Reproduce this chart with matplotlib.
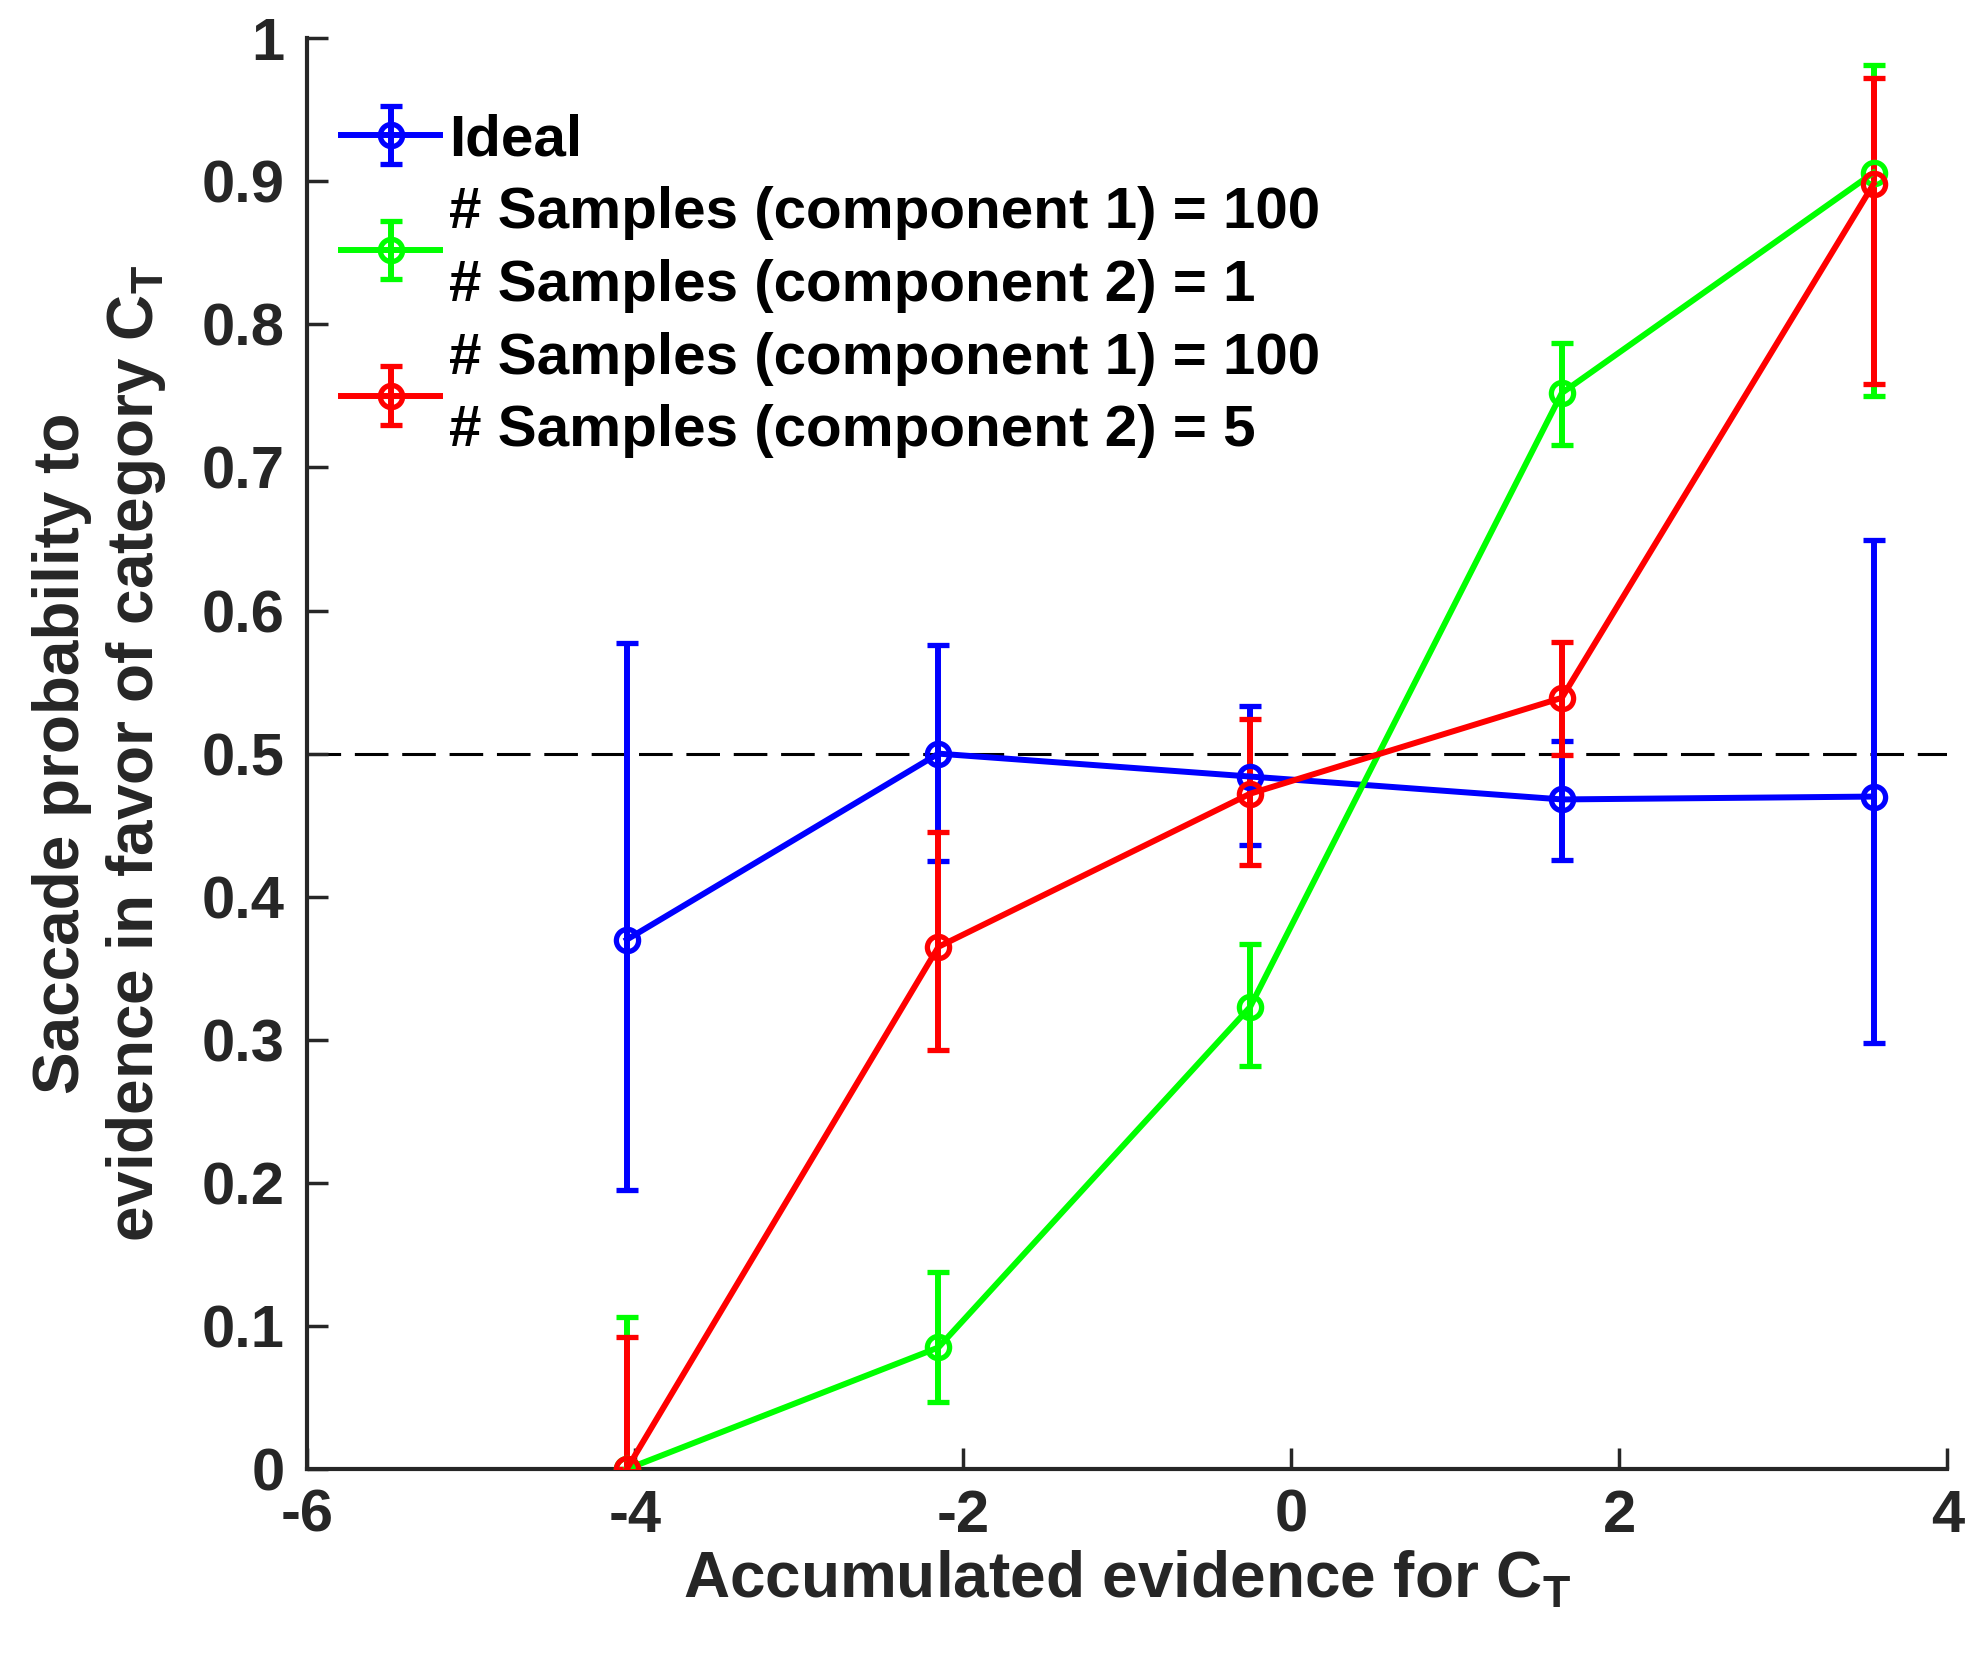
import numpy as np
import matplotlib
matplotlib.use("Agg")
import matplotlib.pyplot as plt

# ── Data ────────────────────────────────────────────────────────────────
x_vals = [-4.05, -2.15, -0.25, 1.65, 3.55]

ideal_y    = [0.370, 0.500, 0.484, 0.468, 0.470]
ideal_lo   = [0.195, 0.425, 0.436, 0.426, 0.298]
ideal_hi   = [0.577, 0.576, 0.533, 0.509, 0.649]

s1_y   = [0.000, 0.085, 0.323, 0.752, 0.906]
s1_lo  = [0.000, 0.047, 0.282, 0.716, 0.750]
s1_hi  = [0.106, 0.138, 0.367, 0.787, 0.981]

s5_y   = [0.000, 0.365, 0.472, 0.539, 0.898]
s5_lo  = [0.000, 0.293, 0.422, 0.499, 0.758]
s5_hi  = [0.092, 0.445, 0.524, 0.578, 0.972]

labels = ["Ideal",
          "# Samples (component 1) = 100\n# Samples (component 2) = 1",
          "# Samples (component 1) = 100\n# Samples (component 2) = 5"]
colors = ["#0000ff", "#00ff00", "#ff0000"]

x_ticks = [-6, -4, -2, 0, 2, 4]
y_ticks = [0, 0.1, 0.2, 0.3, 0.4, 0.5, 0.6, 0.7, 0.8, 0.9, 1]
y_ticklabels = ["0", "0.1", "0.2", "0.3", "0.4", "0.5", "0.6", "0.7",
                "0.8", "0.9", "1"]

# ── Style ──────────────────────────────────────────────────────────────
FONT = ["Liberation Sans Narrow", "Liberation Sans", "DejaVu Sans"]
plt.rcParams["font.family"] = FONT
plt.rcParams["font.weight"] = "bold"
plt.rcParams["mathtext.fontset"] = "custom"
plt.rcParams["mathtext.rm"] = "Liberation Sans:bold"
plt.rcParams["mathtext.bf"] = "Liberation Sans:bold"
plt.rcParams["mathtext.it"] = "Liberation Sans:bold"

FS_TICK = 43
FS_LAB = 46
FS_LEG = 42
AX_COL = "#262626"

fig = plt.figure(figsize=(19.67, 16.6), dpi=100)
ax = fig.add_axes([0.156, 0.115, 0.834, 0.862])

series = [(ideal_y, ideal_lo, ideal_hi),
          (s1_y, s1_lo, s1_hi),
          (s5_y, s5_lo, s5_hi)]

ax.axhline(0.5, color="black", linestyle=(0, (11, 4.5)), linewidth=2.2, zorder=1)

for (y, lo, hi), c, lab in zip(series, colors, labels):
    y = np.array(y); lo = np.array(lo); hi = np.array(hi)
    ax.errorbar(x_vals, y, yerr=[y - lo, hi - y], color=c, ecolor=c,
                linewidth=4.3, elinewidth=4.3, capsize=8, capthick=4.3,
                marker="o", markersize=16, markerfacecolor="none",
                markeredgewidth=3.8, label=lab, zorder=3)

ax.set_xlim(-6, 4)
ax.set_ylim(0, 1)
ax.set_xticks(x_ticks)
ax.set_yticks(y_ticks)
ax.set_xticklabels([str(v) for v in x_ticks])
ax.set_yticklabels(y_ticklabels)
ax.tick_params(direction="in", length=15, width=2.5, labelsize=FS_TICK,
               colors=AX_COL)
ax.tick_params(axis="x", pad=14)
ax.tick_params(axis="y", pad=16)
for s in ["top", "right"]:
    ax.spines[s].set_visible(False)
for s in ["left", "bottom"]:
    ax.spines[s].set_linewidth(3)
    ax.spines[s].set_color(AX_COL)

ax.set_xlabel(r"Accumulated evidence for C$_\mathrm{T}$", fontsize=FS_LAB,
              fontweight="bold", color=AX_COL, labelpad=4)
ax.set_ylabel("Saccade probability to\n" r"evidence in favor of category C$_\mathrm{T}$",
              fontsize=FS_LAB, fontweight="bold", color=AX_COL, labelpad=24,
              linespacing=1.25)

leg = ax.legend(loc="upper left", bbox_to_anchor=(-0.004, 0.976), frameon=False,
                fontsize=FS_LEG, handlelength=1.7, handletextpad=0.15,
                labelspacing=0.32, borderaxespad=0.3)
for t in leg.get_texts():
    t.set_fontweight("bold")
    t.set_color("black")
    t.set_linespacing(1.45)

plt.savefig("out.png", dpi=100)
plt.close()
